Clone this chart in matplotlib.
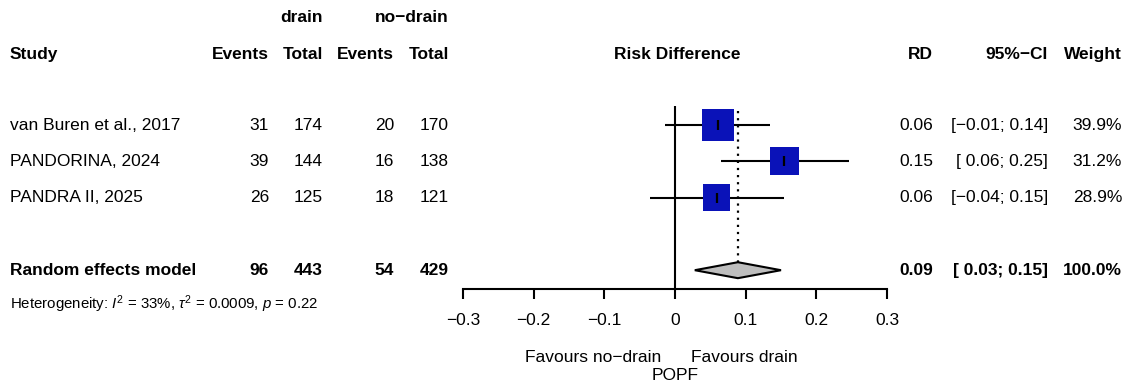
import numpy as np
import matplotlib
matplotlib.use('Agg')
import matplotlib.pyplot as plt
from matplotlib.transforms import blended_transform_factory as blend
from matplotlib.patches import Polygon

plt.rcParams['font.family'] = ['Liberation Sans', 'DejaVu Sans']
plt.rcParams['mathtext.fontset'] = 'custom'
plt.rcParams['mathtext.rm'] = 'Liberation Sans'
plt.rcParams['mathtext.it'] = 'Liberation Sans:italic'

# data
studies = ['van Buren et al., 2017', 'PANDORINA, 2024', 'PANDRA II, 2025']
ev_drain = [31, 39, 26]
tot_drain = [174, 144, 125]
ev_nodrain = [20, 16, 18]
tot_nodrain = [170, 138, 121]
rd = [0.0605, 0.1549, 0.0592]
ci_lo = [-0.014, 0.0648, -0.036]
ci_hi = [0.135, 0.246, 0.154]
weight = [39.9, 31.2, 28.9]

pooled_label = 'Random effects model'
pooled_rd = 0.089
pooled_lo = 0.028
pooled_hi = 0.150
pooled_weight = 100.0
het_text = r'Heterogeneity: $I^2$ = 33%, $\tau^2$ = 0.0009, $p$ = 0.22'

xticks = [-0.3, -0.2, -0.1, 0, 0.1, 0.2, 0.3]
xticklabels = ['\u22120.3', '\u22120.2', '\u22120.1', '0', '0.1', '0.2', '0.3']


def fmt(v, w=5):
    return ('%*.2f' % (w, v)).replace('-', '\u2212')


def ci_str(lo, hi):
    return '[%s; %s]' % (fmt(lo), fmt(hi, 0))


W, H = 1124, 388
fig = plt.figure(figsize=(W / 100, H / 100), dpi=100)

# background axes in pixel units for the text columns
ax0 = fig.add_axes([0, 0, 1, 1])
ax0.set_xlim(0, W)
ax0.set_ylim(H, 0)
ax0.axis('off')

# forest axes
pitch = 36.3
row1 = 125
top_px, bot_px = 100, 289
left_px, right_px = 463, 887
ax = fig.add_axes([left_px / W, (H - bot_px) / H, (right_px - left_px) / W, (bot_px - top_px) / H])
ax.set_xlim(-0.3, 0.3)
ax.set_ylim(1 + (bot_px - row1) / pitch, 1 + (top_px - row1) / pitch)
ax.patch.set_alpha(0)
for s in ['top', 'left', 'right']:
    ax.spines[s].set_visible(False)
ax.spines['bottom'].set_linewidth(1.5)
ax.set_yticks([])
ax.set_xticks(xticks)
ax.set_xticklabels(xticklabels, fontsize=12.5)
ax.tick_params(axis='x', length=7.5, width=1.5, pad=10)

rows = [1, 2, 3]
prow = 5
ybot = ax.get_ylim()[0]

# reference line and pooled dotted line
ax.vlines(0, 0.48, ybot, color='black', lw=1.5)
ax.vlines(pooled_rd, 0.62, prow - 0.23, color='black', lw=1.6, linestyles=(0, (1, 2.2)))

# study CIs and squares
ax.hlines(rows, ci_lo, ci_hi, color='black', lw=1.5, zorder=2)
side_px = 5.07 * np.sqrt(weight)
ax.scatter(rd, rows, marker='s', s=(side_px * 0.72) ** 2, color='#0a12b8',
           edgecolors='none', zorder=3)
ax.vlines(rd, np.array(rows) - 0.14, np.array(rows) + 0.14, color='black', lw=1.6, zorder=4)

# diamond
dh = 0.22
diamond = Polygon([[pooled_lo, prow], [pooled_rd, prow - dh], [pooled_hi, prow], [pooled_rd, prow + dh]],
                  closed=True, facecolor='#bebebe', edgecolor='black', lw=1.5, zorder=3)
ax.add_patch(diamond)

# text columns
tr = blend(ax0.transData, ax.transData)
fs = 12.5
col_study = 10
col_ev_d, col_tot_d, col_ev_n, col_tot_n = 269, 323, 394, 449
col_rd, col_ci, col_w = 933, 1048, 1122

ax0.text(col_tot_d, -1.95, 'drain', transform=tr, ha='right', va='center', fontsize=fs, fontweight='bold')
ax0.text(col_tot_n, -1.95, 'no\u2212drain', transform=tr, ha='right', va='center', fontsize=fs, fontweight='bold')

headers = [(col_study, 'Study', 'left'), (col_ev_d, 'Events', 'right'), (col_tot_d, 'Total', 'right'),
           (col_ev_n, 'Events', 'right'), (col_tot_n, 'Total', 'right'),
           (677, 'Risk Difference', 'center'),
           (col_rd, 'RD', 'right'), (col_ci, '95%\u2212CI', 'right'), (col_w, 'Weight', 'right')]
for x, t, ha in headers:
    ax0.text(x, -0.95, t, transform=tr, ha=ha, va='center', fontsize=fs, fontweight='bold')

for i, r in enumerate(rows):
    ax0.text(col_study, r, studies[i], transform=tr, ha='left', va='center', fontsize=fs)
    ax0.text(col_ev_d, r, str(ev_drain[i]), transform=tr, ha='right', va='center', fontsize=fs)
    ax0.text(col_tot_d, r, str(tot_drain[i]), transform=tr, ha='right', va='center', fontsize=fs)
    ax0.text(col_ev_n, r, str(ev_nodrain[i]), transform=tr, ha='right', va='center', fontsize=fs)
    ax0.text(col_tot_n, r, str(tot_nodrain[i]), transform=tr, ha='right', va='center', fontsize=fs)
    ax0.text(col_rd, r, '%.2f' % rd[i], transform=tr, ha='right', va='center', fontsize=fs)
    ax0.text(col_ci, r, ci_str(ci_lo[i], ci_hi[i]), transform=tr, ha='right', va='center', fontsize=fs)
    ax0.text(col_w, r, '%.1f%%' % weight[i], transform=tr, ha='right', va='center', fontsize=fs)

b = dict(transform=tr, va='center', fontsize=fs, fontweight='bold')
ax0.text(col_study, prow, pooled_label, ha='left', **b)
ax0.text(col_ev_d, prow, str(sum(ev_drain)), ha='right', **b)
ax0.text(col_tot_d, prow, str(sum(tot_drain)), ha='right', **b)
ax0.text(col_ev_n, prow, str(sum(ev_nodrain)), ha='right', **b)
ax0.text(col_tot_n, prow, str(sum(tot_nodrain)), ha='right', **b)
ax0.text(col_rd, prow, '%.2f' % pooled_rd, ha='right', **b)
ax0.text(col_ci, prow, ci_str(pooled_lo, pooled_hi), ha='right', **b)
ax0.text(col_w, prow, '%.1f%%' % pooled_weight, ha='right', **b)

ax0.text(col_study, 304, het_text, ha='left', va='center', fontsize=10.8)

# favours labels and outcome label
ax0.text(661, 357, 'Favours no\u2212drain', ha='right', va='center', fontsize=fs)
ax0.text(691, 357, 'Favours drain', ha='left', va='center', fontsize=fs)
ax.text(0, 376, 'POPF', transform=blend(ax.transData, ax0.transData), ha='center', va='center', fontsize=fs)

fig.savefig('out.png', dpi=100)
